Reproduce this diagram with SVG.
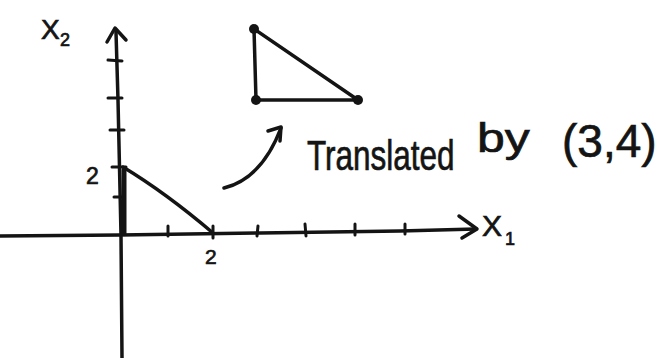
<svg xmlns="http://www.w3.org/2000/svg" width="666" height="358" viewBox="0 0 666 358">
<style>
.ink{fill:none;stroke:#141414;stroke-width:3.5;stroke-linecap:round;stroke-linejoin:round}
.thin{stroke-width:3}
.dot{fill:#141414}
.hand{font-family:"Liberation Sans","DejaVu Sans",sans-serif;fill:#141414;stroke:#141414;stroke-width:0.7}
</style>
<rect width="666" height="358" fill="#ffffff"/>
<g id="axes">
  <path class="ink" d="M0,236 L120,235 L260,233 L400,231 L476,229"/>
  <path class="ink" d="M459,216 L477,229 L462,238"/>
  <path class="ink" d="M122,358 L121,235 L118,100 L116,32"/>
  <path class="ink" d="M107,42 L115,28 L126,40"/>
  <path class="ink thin" d="M168,226 L168,236 M213,226 L213,238 M258,226 L257,236 M305,224 L306,236 M355,224 L355,235 M405,224 L405,234"/>
  <path class="ink thin" d="M114,197 L124,197 M112,167 L126,167 M110,130 L124,130 M108,98 L122,98 M108,60 L122,61"/>
</g>
<g id="original-triangle">
  <path class="ink" d="M123,167 Q166,193 213,233"/>
  <path class="ink" d="M124,170 L124,233" style="stroke-width:5"/>
</g>
<g id="translated-triangle">
  <path class="ink" d="M254,29 L256,100 L358,100 Z"/>
  <circle class="dot" cx="254" cy="29" r="5"/>
  <circle class="dot" cx="256" cy="100" r="5"/>
  <circle class="dot" cx="358" cy="100" r="5"/>
</g>
<g id="connectors">
  <path class="ink" d="M224,188 C248,182 268,162 281,128"/>
  <path class="ink" d="M268,131 L281,127 L280,141"/>
</g>
<g id="labels">
  <text class="hand" x="41" y="39" font-size="28">X</text>
  <text class="hand" x="60" y="46" font-size="18">2</text>
  <text class="hand" x="86" y="184" font-size="23">2</text>
  <text class="hand" x="205" y="264" font-size="21">2</text>
  <text class="hand" x="482" y="236" font-size="30">X</text>
  <text class="hand" x="505" y="245" font-size="18">1</text>
  <text class="hand" font-size="42" transform="translate(307,170) scale(0.75,1)">Translated</text>
  <text class="hand" font-size="40" transform="translate(477,152) scale(1.25,1)">by</text>
  <text class="hand" x="562" y="157" font-size="46">(3,4)</text>
</g>
</svg>
